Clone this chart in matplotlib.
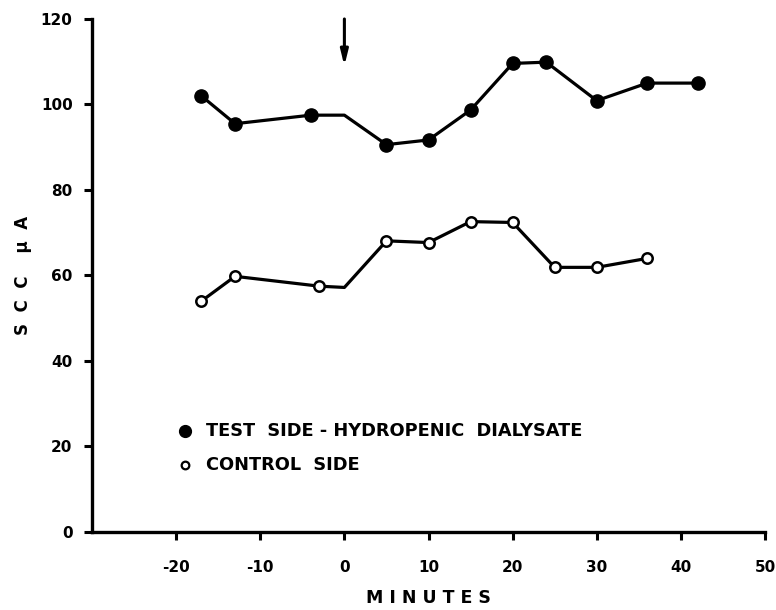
import matplotlib
matplotlib.use("Agg")
import matplotlib.pyplot as plt

# --- data ---
test_x = [-17, -13, -4, 0, 5, 10, 15, 20, 24, 30, 36, 42]
test_y = [102, 95.5, 97.5, 97.5, 90.6, 91.7, 98.7, 109.6, 109.9, 100.9, 105, 105]
test_marked = [True, True, True, False, True, True, True, True, True, True, True, True]

control_x = [-17, -13, -3, 0, 5, 10, 15, 20, 25, 30, 36]
control_y = [54.0, 59.8, 57.5, 57.2, 68.1, 67.7, 72.6, 72.4, 61.9, 61.9, 64.0]
control_marked = [True, True, True, False, True, True, True, True, True, True, True]

arrow_x = 0
arrow_y = [120, 109]

x_ticks = [-20, -10, 0, 10, 20, 30, 40, 50]
x_ticklabels = ["-20", "-10", "0", "10", "20", "30", "40", "50"]
y_ticks = [0, 20, 40, 60, 80, 100, 120]

legend_labels = ["TEST  SIDE - HYDROPENIC  DIALYSATE", "CONTROL  SIDE"]

plt.rcParams["font.family"] = ["DejaVu Sans"]
plt.rcParams["font.weight"] = "bold"

fig = plt.figure(figsize=(7.76, 6.10), dpi=100)
ax = fig.add_axes([0.1186, 0.1279, 0.8672, 0.8410])

# --- series ---
ax.plot(test_x, test_y, color="black", lw=2.3, zorder=2)
ax.plot([x for x, m in zip(test_x, test_marked) if m],
        [y for y, m in zip(test_y, test_marked) if m],
        "o", ms=9.5, color="black", zorder=3)

ax.plot(control_x, control_y, color="black", lw=2.3, zorder=2)
ax.plot([x for x, m in zip(control_x, control_marked) if m],
        [y for y, m in zip(control_y, control_marked) if m],
        "o", ms=7.5, mfc="white", mec="black", mew=1.8, zorder=3)

# --- arrow marking the dialysate change ---
ax.annotate("", xy=(arrow_x, arrow_y[1]), xytext=(arrow_x, arrow_y[0]),
            arrowprops=dict(arrowstyle="-|>,head_length=0.9,head_width=0.22",
                            color="black", lw=2.2, shrinkA=0, shrinkB=0))

# --- legend drawn as text ---
ax.plot([-19], [23.6], "o", ms=8.5, color="black", clip_on=False)
ax.plot([-19], [15.6], "o", ms=5.5, mfc="white", mec="black", mew=1.6, clip_on=False)
ax.text(-16.4, 23.6, legend_labels[0], fontsize=12.8, fontweight="bold",
        va="center", ha="left")
ax.text(-16.4, 15.6, legend_labels[1], fontsize=12.8, fontweight="bold",
        va="center", ha="left")

# --- axes ---
ax.set_xlim(-30, 50)
ax.set_ylim(0, 120)
ax.set_xticks(x_ticks)
ax.set_xticklabels(x_ticklabels)
ax.set_yticks(y_ticks)
for side in ("top", "right"):
    ax.spines[side].set_visible(False)
for side in ("left", "bottom"):
    ax.spines[side].set_linewidth(2.4)
ax.tick_params(direction="out", length=6, width=2.2, labelsize=11, pad=8)
for lbl in ax.get_xticklabels() + ax.get_yticklabels():
    lbl.set_fontweight("bold")
ax.tick_params(axis="x", pad=14)

ax.set_xlabel("M I N U T E S", fontsize=12.5, fontweight="bold", labelpad=10)
ax.set_ylabel("S  C  C    \u03bc  A", fontsize=12, fontweight="bold", labelpad=6)

fig.savefig("out.png", dpi=100)
